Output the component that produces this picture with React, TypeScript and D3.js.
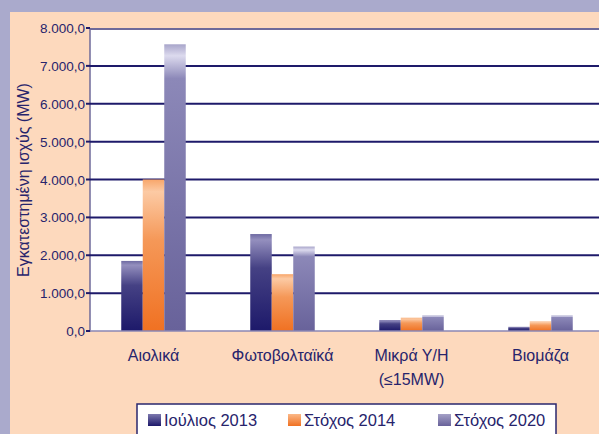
import React from "react";
import * as d3 from "d3";

const categories = ["Αιολικά", "Φωτοβολταϊκά", "Μικρά Υ/Η|(≤15MW)", "Βιομάζα"];
const seriesNames = ["Ιούλιος 2013", "Στόχος 2014", "Στόχος 2020"];
const july2013 = [1850, 2560, 290, 110];
const target2014 = [4000, 1500, 350, 250];
const target2020 = [7570, 2230, 410, 410];
const yTicks = [0, 1000, 2000, 3000, 4000, 5000, 6000, 7000, 8000];

const W = 599;
const H = 434;
const NAVY = "#27246c";

const fmt = (v: number) => {
  const s = d3.format(",.1f")(v);
  return s.replace(/,/g, "#").replace(".", ",").replace(/#/g, ".");
};

export default function App() {
  const series = [july2013, target2014, target2020];
  const x0 = d3.scaleBand<string>().domain(categories).range([89, 605]).paddingInner(0.5).paddingOuter(0.25);
  const x1 = d3.scaleBand<number>().domain([0, 1, 2]).range([0, x0.bandwidth()]);
  const y = d3.scaleLinear().domain([0, 8000]).range([331, 28]);
  const grads = ["gNavy", "gOrange", "gLav"];
  const swatch = ["sNavy", "sOrange", "sLav"];
  const legendX = [148, 288, 438];

  return (
    <svg width={W} height={H} style={{ position: "absolute", left: 0, top: 0, fontFamily: "'Liberation Sans', Arial, sans-serif" }}>
      <defs>
        <linearGradient id="gNavy" x1="0" y1="0" x2="0" y2="1">
          <stop offset="0" stopColor="#6e6aa2" />
          <stop offset="0.06" stopColor="#948fbe" />
          <stop offset="0.35" stopColor="#454184" />
          <stop offset="1" stopColor="#1d196a" />
        </linearGradient>
        <linearGradient id="gOrange" x1="0" y1="0" x2="0" y2="1">
          <stop offset="0" stopColor="#f8a66a" />
          <stop offset="0.08" stopColor="#fccaa4" />
          <stop offset="0.4" stopColor="#f59858" />
          <stop offset="1" stopColor="#f07122" />
        </linearGradient>
        <linearGradient id="gLav" x1="0" y1="0" x2="0" y2="1">
          <stop offset="0" stopColor="#a8a5ca" />
          <stop offset="0.04" stopColor="#dcdaee" />
          <stop offset="0.12" stopColor="#8c88b8" />
          <stop offset="1" stopColor="#68629a" />
        </linearGradient>
        <linearGradient id="sNavy" x1="0" y1="0" x2="0" y2="1">
          <stop offset="0" stopColor="#7c78ae" />
          <stop offset="1" stopColor="#1d196a" />
        </linearGradient>
        <linearGradient id="sOrange" x1="0" y1="0" x2="0" y2="1">
          <stop offset="0" stopColor="#fbb888" />
          <stop offset="1" stopColor="#f07122" />
        </linearGradient>
        <linearGradient id="sLav" x1="0" y1="0" x2="0" y2="1">
          <stop offset="0" stopColor="#a4a0c6" />
          <stop offset="1" stopColor="#68629a" />
        </linearGradient>
      </defs>
      <rect x={0} y={0} width={W} height={H} fill="#aaaacc" />
      <rect x={10} y={12} width={W - 10} height={H - 12} fill="#fdd9bd" />
      <rect x={90} y={28} width={W - 90} height={331 - 28} fill="#ffffff" />
      <line x1={90} x2={W} y1={29} y2={29} stroke="#6e6a9a" strokeWidth={2} />
      <line x1={90} x2={90} y1={28} y2={332} stroke="#6e6a9a" strokeWidth={1.5} />
      {yTicks.map((t) => (
        <g key={t}>
          {t > 0 && t < 8000 && (
            <line x1={90} x2={W} y1={y(t)} y2={y(t)} stroke="#1e1a6a" strokeWidth={2} />
          )}
          <line x1={86} x2={90} y1={y(t)} y2={y(t)} stroke="#1e1a6a" strokeWidth={2} />
          <text x={85} y={y(t) + 5} textAnchor="end" fontSize={13.5} fill={NAVY}>
            {fmt(t)}
          </text>
        </g>
      ))}
      {categories.map((c, ci) =>
        series.map((s, si) => (
          <rect
            key={c + si}
            x={(x0(c) as number) + (x1(si) as number)}
            y={y(s[ci])}
            width={x1.bandwidth()}
            height={331 - y(s[ci])}
            fill={`url(#${grads[si]})`}
          />
        ))
      )}
      <line x1={90} x2={W} y1={331} y2={331} stroke="#8a86b4" strokeWidth={1.5} />
      {categories.map((c) => {
        const lines = c.split("|");
        const cx = (x0(c) as number) + x0.bandwidth() / 2;
        return (
          <text key={c} x={cx} textAnchor="middle" fontSize={16} fill={NAVY}>
            {lines.map((l, i) => (
              <tspan key={i} x={cx} y={361 + i * 24}>
                {l}
              </tspan>
            ))}
          </text>
        );
      })}
      <text transform="translate(29,180) rotate(-90)" textAnchor="middle" fontSize={16} fill={NAVY}>
        Εγκατεστημένη ισχύς (MW)
      </text>
      <rect x={137} y={404} width={419} height={40} fill="#ffffff" stroke="#2a276e" strokeWidth={1.5} />
      {seriesNames.map((n, i) => (
        <g key={n}>
          <rect x={legendX[i]} y={414} width={13} height={12} fill={`url(#${swatch[i]})`} />
          <text x={legendX[i] + 16} y={426} fontSize={16.5} fill={NAVY}>
            {n}
          </text>
        </g>
      ))}
    </svg>
  );
}
